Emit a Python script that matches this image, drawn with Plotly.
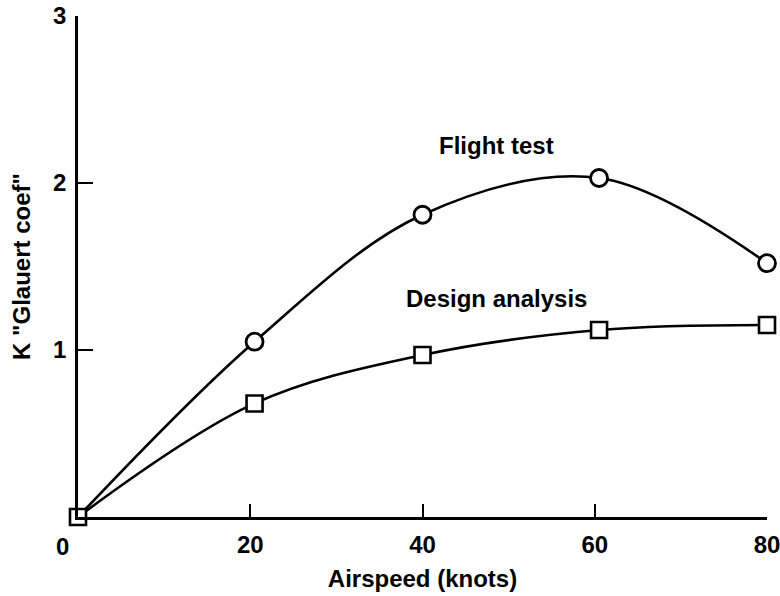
import plotly.graph_objects as go

# Data
airspeed = [0, 20.5, 40, 60.5, 80]
flight_test = [0, 1.05, 1.81, 2.03, 1.52]
design_analysis = [0, 0.68, 0.97, 1.12, 1.15]

x_ticks = [20, 40, 60, 80]
y_ticks = [1, 2, 3]

FONT = "Liberation Sans"
INK = "#000000"
FS = 24

fig = go.Figure()

# Flight test curve (the origin point is shared with the design curve's square marker)
fig.add_trace(go.Scatter(
    x=airspeed, y=flight_test, mode="lines", name="Flight test",
    line=dict(color=INK, width=2.6, shape="spline", smoothing=1.0),
    cliponaxis=False, showlegend=False, hoverinfo="skip",
))
fig.add_trace(go.Scatter(
    x=airspeed, y=design_analysis, mode="lines+markers", name="Design analysis",
    line=dict(color=INK, width=2.6, shape="spline", smoothing=1.0),
    marker=dict(symbol="square", size=16, color="white",
                line=dict(color=INK, width=2.6)),
    cliponaxis=False, showlegend=False,
))
fig.add_trace(go.Scatter(
    x=airspeed[1:], y=flight_test[1:], mode="markers", name="Flight test",
    marker=dict(symbol="circle", size=17, color="white",
                line=dict(color=INK, width=2.8)),
    cliponaxis=False, showlegend=False,
))

fig.add_annotation(x=0, y=0, text="<b>0</b>", showarrow=False, xref="x", yref="y",
                   xanchor="center", yanchor="middle",
                   xshift=-16, yshift=-29, font=dict(family=FONT, size=FS, color=INK))
fig.add_annotation(x=0.607, y=0.741, xref="paper", yref="paper", text="<b>Flight test</b>",
                   xanchor="center", yanchor="middle",
                   showarrow=False, font=dict(family=FONT, size=FS, color=INK))
fig.add_annotation(x=0.607, y=0.437, xref="paper", yref="paper", text="<b>Design analysis</b>",
                   xanchor="center", yanchor="middle",
                   showarrow=False, font=dict(family=FONT, size=FS, color=INK))

fig.update_layout(
    width=780, height=596,
    margin=dict(l=78, r=13, t=16, b=79),
    paper_bgcolor="white", plot_bgcolor="white",
    font=dict(family=FONT, size=FS, color=INK),
    xaxis=dict(range=[0, 80], tickvals=x_ticks, ticktext=[f"<b>{v}</b>" for v in x_ticks],
               ticks="inside", ticklen=13, tickwidth=2, tickcolor=INK,
               showline=True, linecolor=INK, linewidth=2.5, showgrid=False, zeroline=False,
               ticklabelstandoff=4, automargin=False, ticklabeloverflow="allow",
               title=dict(text="<b>Airspeed (knots)</b>", standoff=14,
                          font=dict(family=FONT, size=FS, color=INK))),
    yaxis=dict(range=[0, 3], tickvals=y_ticks, ticktext=[f"<b>{v}</b>" for v in y_ticks],
               ticks="inside", ticklen=15, tickwidth=2, tickcolor=INK,
               showline=True, linecolor=INK, linewidth=2.5, showgrid=False, zeroline=False,
               ticklabelstandoff=4, automargin=False, ticklabeloverflow="allow",
               title=dict(text="<b>K \"Glauert coef\"</b>", standoff=16,
                          font=dict(family=FONT, size=FS, color=INK))),
)

# Remove the default page margin so the 780x596 figure fills the window exactly.
fig.write_html(
    "out.html",
    config={"displayModeBar": False},
    post_script="document.body.style.margin='0';document.documentElement.style.overflow='hidden';",
)
